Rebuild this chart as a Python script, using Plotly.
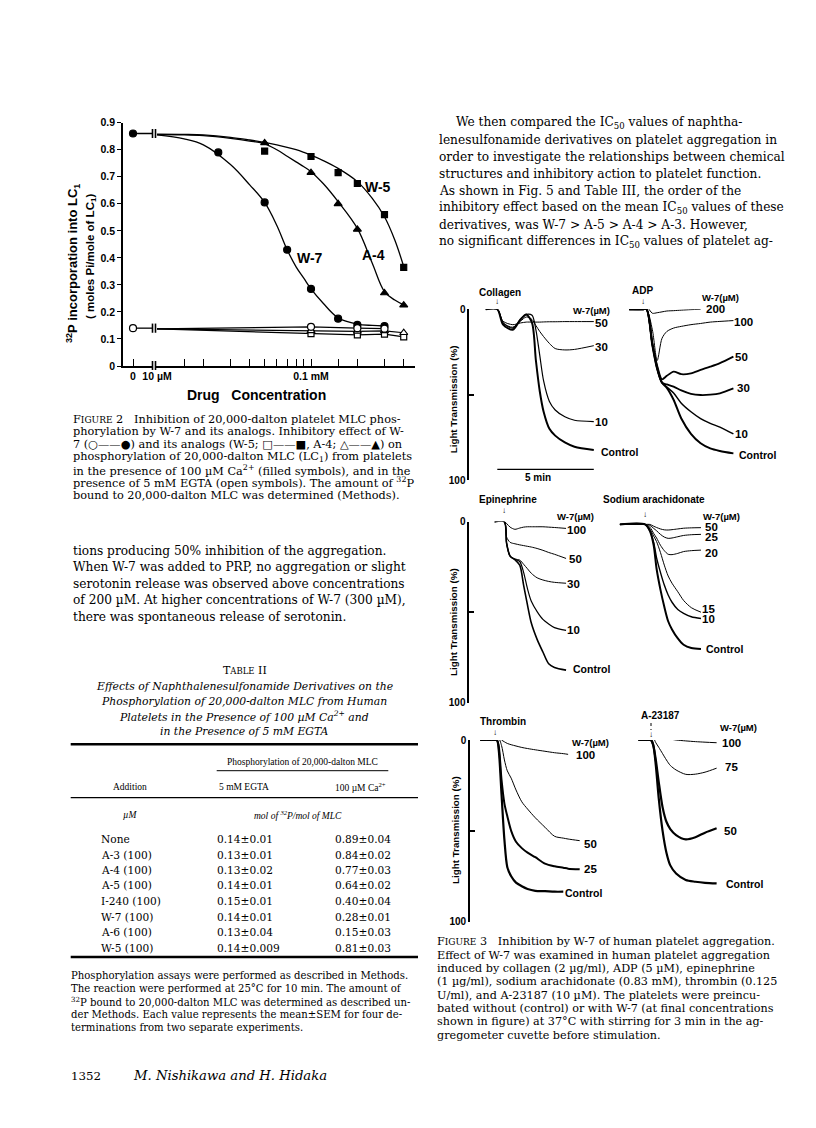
import plotly.graph_objects as go

# ================= DATA =================
zero_ca = 0.86
zero_egta = 0.14

w7_conc = [25, 50, 70, 100, 150, 200, 300]
w7_ca = [0.79, 0.605, 0.43, 0.285, 0.175, 0.152, 0.148]
w5_conc = [50, 100, 150, 200, 300, 400]
w5_ca = [0.795, 0.775, 0.715, 0.675, 0.56, 0.365]
a4_conc = [50, 100, 150, 200, 300, 400]
a4_ca = [0.825, 0.715, 0.60, 0.505, 0.27, 0.225]

fit_conc = [10, 15, 20, 30, 40, 50, 60, 70, 80, 90, 100, 120, 150, 200, 250, 300, 350, 400]
w7_fit = [0.855, 0.84, 0.818, 0.745, 0.67, 0.605, 0.52, 0.43, 0.367, 0.324, 0.285, 0.232, 0.178, 0.155, 0.15, 0.148, None, None]
w5_fit = [0.858, 0.857, 0.855, 0.846, 0.836, 0.827, 0.818, 0.809, 0.80, 0.79, 0.78, 0.76, 0.731, 0.682, 0.62, 0.552, 0.466, 0.368]
a4_fit = [0.856, 0.855, 0.852, 0.842, 0.832, 0.822, 0.80, 0.776, 0.755, 0.737, 0.719, 0.675, 0.608, 0.509, 0.38, 0.275, 0.244, 0.226]

egta_start = 0.137
w7_egta_conc = [100, 200, 300]
w7_egta = [0.145, 0.14, 0.138]
a4_egta_conc = [100, 200, 300, 400]
a4_egta = [0.13, 0.128, 0.13, 0.123]
w5_egta_conc = [100, 200, 300, 400]
w5_egta = [0.12, 0.115, 0.118, 0.108]

x_minor_ticks = [10, 15, 20, 30, 40, 50, 60, 70, 80, 90, 100, 150, 200, 300, 400]
y_ticks = [0, 0.1, 0.2, 0.3, 0.4, 0.5, 0.6, 0.7, 0.8, 0.9]

additions = ["None", "A-3 (100)", "A-4 (100)", "A-5 (100)", "I-240 (100)", "W-7 (100)", "A-6 (100)", "W-5 (100)"]
egta_vals = ["0.14±0.01", "0.13±0.01", "0.13±0.02", "0.14±0.01", "0.15±0.01", "0.14±0.01", "0.13±0.04", "0.14±0.009"]
ca_vals = ["0.89±0.04", "0.84±0.02", "0.77±0.03", "0.64±0.02", "0.40±0.04", "0.28±0.01", "0.15±0.03", "0.81±0.03"]

collagen_t = [-0.6, 0, 0.3, 0.8, 1.2, 1.5, 1.8, 2.0, 2.2, 2.4, 2.7, 3.0, 3.5, 4.0, 5.0]
collagen_50 = [0, 0, 7, 9, 8, 7.5, 7.5, 7.5, 7.5, 7.4, 7.3, 7.3, 7.2, 7.2, 7.2]
collagen_30 = [0, 0, 8, 10.5, 7, 4.5, 6, 9.5, 13, 16, 20, 23, 23.8, 23.5, 21.3]
collagen_10 = [0, 0, 8, 11, 6, 3, 3.5, 12, 27, 42, 54, 59, 63, 65, 65.8]
collagen_control = [0, 0, 9, 12, 6, 3, 8, 30, 48, 60, 70, 74, 78, 80.5, 82.4]

adp_t = [-0.7, 0, 0.2, 0.5, 0.75, 1.0, 1.25, 1.6, 2.0, 2.5, 3.0, 3.5, 4.0, 4.7]
adp_200 = [0, 0, -1.5, 2.3, 2, 1.5, 1, 0.8, 0.5, 0.2, 0, None, None, None]
adp_100 = [0, 0, 0, 12, 30, 17, 13, 11, 10, 9, 8.3, 7.5, 7.1, 6.6]
adp_50 = [0, 0, 0, 20, 33, 41, 39, 36.5, 38, 37.5, 35.5, 33.6, 31.5, 27.7]
adp_30 = [0, 0, 0, 20, 34, 43, 44, 45.3, 47.5, 49.5, 50.2, 50, 49.2, 46.3]
adp_10 = [0, 0, 0, 21, 35, 43, 45.5, 49, 55, 60, 64, 66.8, 69, 73]
adp_control = [0, 0, 0, 21, 35, 43, 46, 53, 64, 73, 78.5, 81.5, 83, 84.4]

epi_t = [-0.5, 0, 0.12, 0.3, 0.55, 0.8, 1.0, 1.2, 1.4, 1.7, 2.0, 2.3, 2.6, 3.2]
epi_100 = [0, 0, 1, 3, 4.2, 3.5, 3, 2.8, 2.8, 2.8, 2.8, 3, 3.2, 3.7]
epi_50 = [0, 0, 8.5, 11.4, 12.2, 12.8, 13.2, 13.6, 14, 14.8, 15.8, 17, 18, 20.3]
epi_30 = [0, 0, 12, 19, 20.6, 21.2, 23.5, 26, 28.5, 31, 32.2, 33, 33.5, 34]
epi_10 = [0, 0, 12, 19, 20.8, 22, 28, 37, 44, 49.7, 54, 56.5, 58.5, 60]
epi_control = [0, 0, 12, 19, 21, 24, 35, 46, 56, 65, 72, 78.5, 80.5, 82]

ara_t = [-1.3, 0, 0.25, 0.45, 0.6, 0.8, 1.0, 1.2, 1.4, 1.7, 2.0, 2.4, 2.9]
ara_50 = [1.5, 1.5, 1.5, 2.5, 3.2, 4, 4.5, 4.6, 4.4, 4, 3.6, 3.4, 3.3]
ara_25 = [1.5, 1.5, 2, 3.7, 5, 7, 8.5, 9.2, 9, 8.3, 7.6, 7.2, 7]
ara_20 = [1.5, 1.5, 3, 6.5, 9, 13, 16, 18, 18.2, 17.5, 16.5, 16, 15.7]
ara_15 = [1.5, 1.5, 4, 8, 11, 17, 24, 30, 34, 38.7, 43.5, 47.5, 50]
ara_10 = [1.5, 1.5, 5, 11.5, 20, 28, 35, 40.5, 44.5, 48.5, 50.6, 52.5, 53.5]
ara_control = [1.5, 1.5, 5, 13, 26, 37.5, 47, 55, 59.5, 64.5, 68, 69.8, 70.3]

thr_t = [-0.85, 0, 0.1, 0.25, 0.4, 0.55, 0.75, 1.0, 1.3, 1.6, 2.0, 2.5, 3.0, 3.45, 3.7, 4.3]
thr_100 = [0, 0, -1.5, 0, 1, 1.9, 2.6, 3.3, 4.1, 4.7, 5.4, 6.2, 7, 7.5, 7.9, None]
thr_50 = [0, 0, -1, 3, 11, 17, 21, 27.5, 34, 38, 42.8, 48, 53, 54, 54.5, 55.4]
thr_25 = [0, 0, 3, 22, 35, 42, 50, 56, 59.5, 62, 64.5, 68, 69.5, 70.3, 70.8, 71.2]
thr_control = [0, 0, 5, 30, 55, 70, 75, 78.5, 80.5, 82, 83, 83.2, 83.5, 83.5, None, None]

a23_t = [-0.65, 0, 0.12, 0.25, 0.4, 0.6, 0.8, 1.0, 1.3, 1.8, 2.3, 2.8, 3.4]
a23_100 = [0, 0, -2.2, -2, -1.6, -1.2, -0.9, -0.5, 0, 0.5, 0.9, 1.2, 1.5]
a23_75 = [0, 0, -1, 1.5, 4, 7.5, 11, 14, 16.5, 18.9, 18.8, 17.7, 15.5]
a23_50 = [0, 0, 3, 11, 23, 37, 45, 49, 52.3, 54.7, 53.5, 51, 48.6]
a23_control = [0, 0, 3, 14, 32, 50, 62, 69, 73.5, 77, 78, 78.6, 78.9]

# ================= LAYOUT HELPERS =================
W, H = 816, 1128
def fx(px):
    return px / W
def fy(py):
    return 1 - py / H

SERIF = "DejaVu Serif"
TSERIF = "Liberation Serif"
SANS = "Liberation Sans"
annotations = []
shapes = []

def text(t, x, y, size, family=SERIF, xanchor="left", yanchor="middle",
         weight="normal", style="normal", angle=0):
    annotations.append(dict(text=t, x=fx(x), y=fy(y), xref="paper", yref="paper",
                            showarrow=False, xanchor=xanchor, yanchor=yanchor,
                            textangle=angle, borderpad=0,
                            font=dict(family=family, size=size, weight=weight,
                                      style=style, color="black")))

def para(lines, x, y0, dy, size, **kw):
    for i, ln in enumerate(lines):
        text(ln, x, y0 + i * dy, size, **kw)

def hline(x0, x1, y, w):
    shapes.append(dict(type="line", xref="paper", yref="paper", x0=fx(x0), x1=fx(x1),
                       y0=fy(y), y1=fy(y), line=dict(color="black", width=w)))

fig = go.Figure()
blk = "black"

# ================= FIGURE 2 =================
Y0PX, PX_PER_UNIT = 366.0, 270.33
AX_L, BRK1, BRK2, AX_R = 123, 152, 156, 415
DEC = 154.0
x2_range = [1 - (157 - BRK2) / DEC, 1 + (AX_R - 157) / DEC]

def mk(symbol, size, filled):
    return dict(symbol=symbol, size=size, color=blk if filled else "white",
                line=dict(color=blk, width=1.2))

for v in (zero_ca, zero_egta):
    fig.add_trace(go.Scatter(x=[0, 1.9], y=[v, v], mode="lines",
                             line=dict(color=blk, width=1.3), xaxis="x", yaxis="y"))
fig.add_trace(go.Scatter(x=[0], y=[zero_ca], mode="markers", marker=mk("circle", 7, True), xaxis="x", yaxis="y"))
fig.add_trace(go.Scatter(x=[0], y=[zero_egta], mode="markers", marker=mk("circle", 7, False), xaxis="x", yaxis="y"))

for fit in (w7_fit, w5_fit, a4_fit):
    fig.add_trace(go.Scatter(x=fit_conc, y=fit, mode="lines", line_shape="spline",
                             line=dict(color=blk, width=1.3), xaxis="x2", yaxis="y"))
for cc, vv in ((w7_egta_conc, w7_egta), (a4_egta_conc, a4_egta), (w5_egta_conc, w5_egta)):
    fig.add_trace(go.Scatter(x=[10] + cc, y=[egta_start] + vv, mode="lines",
                             line=dict(color=blk, width=1.2), xaxis="x2", yaxis="y"))
fig.add_trace(go.Scatter(x=w7_conc, y=w7_ca, mode="markers", marker=mk("circle", 7, True), xaxis="x2", yaxis="y"))
fig.add_trace(go.Scatter(x=w5_conc, y=w5_ca, mode="markers", marker=mk("square", 6, True), xaxis="x2", yaxis="y"))
fig.add_trace(go.Scatter(x=a4_conc, y=a4_ca, mode="markers", marker=mk("triangle-up", 7, True), xaxis="x2", yaxis="y"))
fig.add_trace(go.Scatter(x=w5_egta_conc, y=w5_egta, mode="markers", marker=mk("square", 6, False), xaxis="x2", yaxis="y"))
fig.add_trace(go.Scatter(x=a4_egta_conc, y=a4_egta, mode="markers", marker=mk("triangle-up", 7, False), xaxis="x2", yaxis="y"))
fig.add_trace(go.Scatter(x=w7_egta_conc, y=w7_egta, mode="markers", marker=mk("circle", 7, False), xaxis="x2", yaxis="y"))

for bx in (BRK1 + 0.5, BRK2 - 0.5):
    for v in (zero_ca, zero_egta):
        shapes.append(dict(type="line", xref="paper", yref="y", x0=fx(bx), x1=fx(bx),
                           y0=v - 0.017, y1=v + 0.017, line=dict(color=blk, width=1.6)))
    shapes.append(dict(type="line", xref="paper", yref="paper", x0=fx(bx), x1=fx(bx),
                       y0=fy(Y0PX + 4), y1=fy(Y0PX - 5), line=dict(color=blk, width=1.6)))

tickfont2 = dict(family=SANS, size=10.5, weight="bold", color=blk)
axis_common = dict(showgrid=False, zeroline=False, showline=True, linecolor=blk, linewidth=1.6,
                   tickcolor=blk, tickfont=tickfont2, automargin=False)

text("W-5", 378, 187, 14, family=SANS, xanchor="center", weight="bold")
text("A-4", 373, 255, 14, family=SANS, xanchor="center", weight="bold")
text("W-7", 310, 258, 14, family=SANS, xanchor="center", weight="bold")
text("Drug\u00a0\u00a0 Concentration", 256, 395, 14, family=SANS, xanchor="center", weight="bold")
text("<sup>32</sup>P incorporation into LC<sub>1</sub>", 73, 264, 13, family=SANS,
     xanchor="center", weight="bold", angle=-90)
text("( moles Pi/mole of LC<sub>1</sub>)", 91, 257, 11.5, family=SANS,
     xanchor="center", weight="bold", angle=-90)

fig2_caption = [
    "F<span style='font-size:9px'>IGURE</span> 2\u00a0\u00a0 Inhibition of 20,000-dalton platelet MLC phos-",
    "phorylation by W-7 and its analogs. Inhibitory effect of W-",
    "7 (○——●) and its analogs (W-5; □——■, A-4; △——▲) on",
    "phosphorylation of 20,000-dalton MLC (LC<sub>1</sub>) from platelets",
    "in the presence of 100 µM Ca<sup>2+</sup> (filled symbols), and in the",
    "presence of 5 mM EGTA (open symbols). The amount of <sup>32</sup>P",
    "bound to 20,000-dalton MLC was determined (Methods).",
]
para(fig2_caption, 71.7, 419, 12.75, 11.3)

body_left = [
    "tions producing 50% inhibition of the aggregation.",
    "When W-7 was added to PRP, no aggregation or slight",
    "serotonin release was observed above concentrations",
    "of 200 µM. At higher concentrations of W-7 (300 µM),",
    "there was spontaneous release of serotonin.",
]
para(body_left, 71.7, 550.7, 16.5, 12.2)

body_right = [
    "lenesulfonamide derivatives on platelet aggregation in",
    "order to investigate the relationships between chemical",
    "structures and inhibitory action to platelet function.",
    "As shown in Fig. 5 and Table III, the order of the",
    "inhibitory effect based on the mean IC<sub>50</sub> values of these",
    "derivatives, was W-7 > A-5 > A-4 > A-3. However,",
    "no significant differences in IC<sub>50</sub> values of platelet ag-",
]
text("We then compared the IC<sub>50</sub> values of naphtha-", 455, 123.3, 12.2)
para(body_right, 438.3, 140.2, 16.9, 12.2)

# ================= TABLE II =================
text("T<span style='font-size:8.5px'>ABLE</span> II", 245, 670.7, 11, xanchor="center")
table_title = [
    "Effects of Naphthalenesulfonamide Derivatives on the",
    "Phosphorylation of 20,000-dalton MLC from Human",
    "Platelets in the Presence of 100 µM Ca<sup>2+</sup> and",
    "in the Presence of 5 mM EGTA",
]
para(table_title, 244, 686, 15.3, 10.8, xanchor="center", style="italic")
hline(70.7, 418, 744.3, 2.4)
text("Phosphorylation of 20,000-dalton MLC", 302.7, 761.7, 9.5, family=TSERIF, xanchor="center")
hline(216.7, 388.3, 770.7, 1.0)
text("Addition", 130, 786.7, 9.5, family=TSERIF, xanchor="center")
text("5 mM EGTA", 244, 786.7, 9.5, family=TSERIF, xanchor="center")
text("100 µM Ca<sup>2+</sup>", 360.7, 786.7, 9.5, family=TSERIF, xanchor="center")
hline(70.7, 418, 797.7, 1.3)
text("µM", 130, 815, 9.5, family=TSERIF, xanchor="center", style="italic")
text("mol of <sup>32</sup>P/mol of MLC", 298, 815, 9.5, family=TSERIF, xanchor="center", style="italic")
for i, (a, e, c) in enumerate(zip(additions, egta_vals, ca_vals)):
    yy = 839 + 15.5 * i
    text(a, 100, yy, 10.6)
    text(e, 216, yy, 10.6)
    text(c, 334.3, yy, 10.6)
hline(70.7, 418, 957, 2.4)

footnote = [
    "Phosphorylation assays were performed as described in Methods.",
    "The reaction were performed at 25°C for 10 min. The amount of",
    "<sup>32</sup>P bound to 20,000-dalton MLC was determined as described un-",
    "der Methods. Each value represents the mean±SEM for four de-",
    "terminations from two separate experiments.",
]
para(footnote, 70, 975.7, 12.9, 10.1)
text("1352", 70, 1075.7, 11.8)
text("M. Nishikawa and H. Hidaka", 131.7, 1075.7, 13.2, style="italic")

# ================= FIGURE 3 =================
PPM = 19.3
L_END, R_START, R_END = 610, 612, 800
rows = [
    ("y2", 309.3, 480.0, 469.3, 497.3, 642.7),
    ("y3", 521.7, 702.7, 469.3, 504.3, 645.0),
    ("y4", 740.0, 921.7, 470.0, 496.7, 651.0),
]
panels = [
    (collagen_t, [(collagen_50, 1.0), (collagen_30, 1.0), (collagen_10, 1.2), (collagen_control, 2.0)]),
    (adp_t, [(adp_200, 1.0), (adp_100, 1.0), (adp_50, 1.8), (adp_30, 1.8), (adp_10, 1.5), (adp_control, 2.0)]),
    (epi_t, [(epi_100, 1.0), (epi_50, 1.0), (epi_30, 1.0), (epi_10, 1.2), (epi_control, 1.6)]),
    (ara_t, [(ara_50, 1.0), (ara_25, 1.0), (ara_20, 1.0), (ara_15, 1.0), (ara_10, 1.4), (ara_control, 2.0)]),
    (thr_t, [(thr_100, 1.0), (thr_50, 1.0), (thr_25, 2.0), (thr_control, 2.2)]),
    (a23_t, [(a23_100, 1.0), (a23_75, 1.0), (a23_50, 2.2), (a23_control, 2.2)]),
]

layout_axes = {}
for r, (yname, p0, p100, axx, arL, arR) in enumerate(rows):
    xl = "x%d" % (3 + 2 * r)
    xr = "x%d" % (4 + 2 * r)
    layout_axes["xaxis%d" % (3 + 2 * r)] = dict(
        domain=[fx(axx), fx(L_END)], range=[(axx - arL) / PPM, (L_END - arL) / PPM],
        anchor=yname, visible=False, showgrid=False, zeroline=False, automargin=False)
    layout_axes["xaxis%d" % (4 + 2 * r)] = dict(
        domain=[fx(R_START), fx(R_END)], range=[(R_START - arR) / PPM, (R_END - arR) / PPM],
        anchor=yname, visible=False, showgrid=False, zeroline=False, automargin=False)
    layout_axes["yaxis%d" % (2 + r)] = dict(
        domain=[fy(p100), fy(p0)], range=[100, 0], anchor=xl, showgrid=False, zeroline=False,
        showline=True, linecolor=blk, linewidth=1.6, ticks="inside", ticklen=5, tickwidth=1.5,
        tickcolor=blk, tickvals=[0, 50, 100], ticktext=["0", "", "100"], automargin=False,
        tickfont=dict(family=SANS, size=10, weight="bold", color=blk))
    for side, xname in ((0, xl), (1, xr)):
        tt, curves = panels[2 * r + side]
        for vals, lw in curves:
            fig.add_trace(go.Scatter(x=tt, y=vals, mode="lines", line_shape="spline",
                                     line=dict(color=blk, width=lw, smoothing=0.8),
                                     xaxis=xname, yaxis=yname, connectgaps=False))

shapes.append(dict(type="line", xref="x3", yref="paper", x0=0, x1=5, y0=fy(469.3), y1=fy(469.3),
                   line=dict(color=blk, width=1.2)))
text("5 min", 538.3, 477, 10, family=SANS, xanchor="center", weight="bold")

for (yy, xx) in ((399, 453.3), (621.7, 453.3), (830, 455)):
    text("Light Transmission (%)", xx, yy, 9.8, family=SANS, xanchor="center", weight="bold", angle=-90)

def lab(t, x, y, size=11.5, xanchor="center"):
    text(t, x, y, size, family=SANS, xanchor=xanchor, weight="bold")

lab("Collagen", 500, 292.3, 10)
lab("↓", 497.3, 301.5, 8)
lab("ADP", 642.7, 290.7, 10)
lab("↓", 642.7, 301.5, 8)
lab("Epinephrine", 478.3, 500, 10, xanchor="left")
lab("↓", 504.3, 510, 8)
lab("Sodium arachidonate", 601.7, 500, 10, xanchor="left")
lab("↓", 645, 514, 8)
lab("Thrombin", 503.3, 721.7, 10)
lab("↓", 495, 732, 8)
lab("A-23187", 660, 715.7, 10)
shapes.append(dict(type="line", xref="paper", yref="paper", x0=fx(651), x1=fx(651),
                   y0=fy(723), y1=fy(730), line=dict(color=blk, width=1, dash="dot")))
lab("↓", 651, 734, 8)

for (x, y) in ((591.7, 310.7), (720, 297.3), (575, 516.7), (721.7, 516.7), (590.8, 742.3), (738.3, 727.7)):
    lab("W-7(µM)", x, y, 9.5)

lab("50", 601.7, 323.3); lab("30", 601.7, 346.7); lab("10", 601.7, 421.7)
lab("Control", 600, 451.7, 10.5, xanchor="left")
lab("200", 715, 309.3); lab("100", 743.3, 322.3); lab("50", 741.7, 356.7)
lab("30", 743.3, 388.3); lab("10", 741.7, 434)
lab("Control", 738.3, 455, 10.5, xanchor="left")
lab("100", 576.7, 530); lab("50", 575, 559); lab("30", 573.3, 584); lab("10", 573.3, 630)
lab("Control", 571.7, 669.3, 10.5, xanchor="left")
lab("50", 711.7, 527); lab("25", 711.7, 536.5); lab("20", 711.7, 552.7)
lab("15", 708.3, 609); lab("10", 708.3, 619.3)
lab("Control", 705, 649.3, 10.5, xanchor="left")
lab("100", 585, 755); lab("50", 590, 844); lab("25", 590.7, 869.3)
lab("Control", 564, 893.3, 10.5, xanchor="left")
lab("100", 731.7, 743.3); lab("75", 731.7, 767.3); lab("50", 730, 830.7)
lab("Control", 725, 884, 10.5, xanchor="left")

fig3_caption = [
    "F<span style='font-size:9px'>IGURE</span> 3\u00a0\u00a0 Inhibition by W-7 of human platelet aggregation.",
    "Effect of W-7 was examined in human platelet aggregation",
    "induced by collagen (2 µg/ml), ADP (5 µM), epinephrine",
    "(1 µg/ml), sodium arachidonate (0.83 mM), thrombin (0.125",
    "U/ml), and A-23187 (10 µM). The platelets were preincu-",
    "bated without (control) or with W-7 (at final concentrations",
    "shown in figure) at 37°C with stirring for 3 min in the ag-",
    "gregometer cuvette before stimulation.",
]
para(fig3_caption, 436, 941.7, 13.37, 11.2)

fig.update_layout(
    width=W, height=H, autosize=False,
    margin=dict(l=0, r=0, t=0, b=0, pad=0, autoexpand=False),
    paper_bgcolor="white", plot_bgcolor="white", showlegend=False,
    xaxis=dict(domain=[fx(AX_L), fx(BRK1)], range=[-1, 1.9], anchor="y",
               ticks="inside", ticklen=7, tickwidth=1.4, tickvals=[0], ticktext=["0"], **axis_common),
    xaxis2=dict(type="log", domain=[fx(BRK2), fx(AX_R)], range=x2_range, anchor="y",
                ticks="inside", ticklen=7, tickwidth=1.4, tickvals=x_minor_ticks,
                ticktext=["10 µM" if v == 10 else ("0.1 mM" if v == 100 else "") for v in x_minor_ticks],
                **axis_common),
    yaxis=dict(domain=[fy(Y0PX), fy(Y0PX - 0.9 * PX_PER_UNIT)], range=[0, 0.9], anchor="x",
               ticks="outside", ticklen=4, tickwidth=1.4, tickvals=y_ticks,
               ticktext=["0"] + ["%.1f" % v for v in y_ticks[1:]], **axis_common),
    annotations=annotations, shapes=shapes,
    **layout_axes,
)

fig.write_html(
    "out.html",
    config={"displayModeBar": False},
    post_script=("document.body.style.margin='0';"
                 "document.body.style.overflow='hidden';"
                 "document.documentElement.style.overflow='hidden';"),
)
